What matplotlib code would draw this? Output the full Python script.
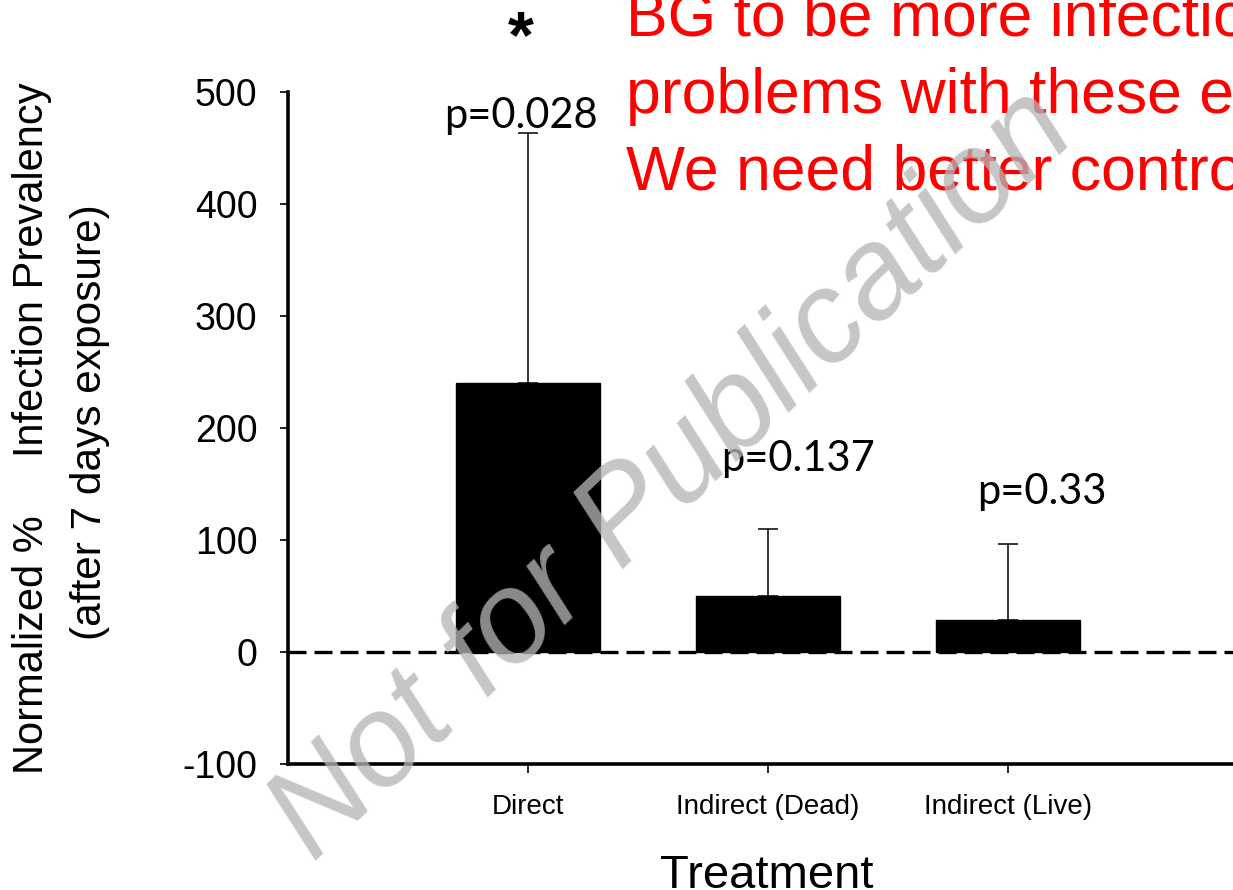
import matplotlib
matplotlib.use("Agg")
import matplotlib.pyplot as plt
import numpy as np

# ---- data ----
categories = ["Direct", "Indirect (Dead)", "Indirect (Live)"]
values = [240, 50, 29]
err_upper = [223, 60, 67]
p_labels = ["p=0.028", "p=0.137", "p=0.33"]
yticks = [-100, 0, 100, 200, 300, 400, 500]
note_lines = ["BG to be more infectious", "problems with these experiments.",
              "We need better controls"]

# ---- layout (positions of annotations, in data coords) ----
p_pos = [(0.97, 468), (2.125, 162), (3.14, 132)]

plt.rcParams['font.family'] = ['Liberation Sans', 'DejaVu Sans']
plt.rcParams['axes.unicode_minus'] = False

W, H = 1233, 890
fig = plt.figure(figsize=(W / 100, H / 100), dpi=100)
ax = fig.add_axes([288 / W, 126 / H, 960 / W, 672 / H])

x = np.arange(1, len(categories) + 1)
ax.bar(x, values, width=0.6, color='black', edgecolor='black', zorder=2)
ax.errorbar(x, values, yerr=[np.zeros(len(values)), err_upper], fmt='none',
            ecolor='black', elinewidth=1.1, capsize=7.5, capthick=1.1, zorder=3)
ax.axhline(0, color='black', lw=2.4, dashes=(5.4, 2.4), zorder=4)

ax.set_xlim(0, 4)
ax.set_ylim(-100, 500)
ax.set_yticks(yticks)
ax.set_xticks(x)
ax.set_xticklabels(categories, fontsize=20)
ax.tick_params(axis='y', labelsize=27, length=6, width=1.2, pad=16, direction='out')
ax.tick_params(axis='x', length=6.5, width=1.2, pad=15, direction='out')
for s in ['top', 'right']:
    ax.spines[s].set_visible(False)
for s in ['left', 'bottom']:
    ax.spines[s].set_linewidth(2.6)

# p-value labels
for (px, py), lab in zip(p_pos, p_labels):
    ax.text(px, py, lab, ha='center', va='baseline', fontsize=30,
            family=['Lato', 'DejaVu Sans'], zorder=5)

# asterisk
fig.text(521 / W, 1 - 40 / H, "*", ha='center', va='center', fontsize=48,
         fontweight='bold', color='black')

# x label
fig.text(767 / W, 1 - 888 / H, "Treatment", ha='center', va='baseline', fontsize=34)

# y label (two lines)
fig.text(32 / W, 1 - 428 / H, "Normalized %     Infection Prevalency", rotation=90,
         ha='center', va='center', fontsize=30)
fig.text(90 / W, 1 - 422 / H, "(after 7 days exposure)", rotation=90,
         ha='center', va='center', fontsize=30.5)

# red note text
for yb, line in zip([36, 113, 189], note_lines):
    fig.text(626 / W, 1 - yb / H, line, ha='left', va='baseline', fontsize=45,
             color='#ff0000')

# watermark
fig.text(696 / W, 1 - 500 / H, "Not for Publication", rotation=43.5,
         rotation_mode='anchor', ha='center', va='baseline', fontsize=93,
         style='italic', color=(0.71, 0.71, 0.71), alpha=0.77, zorder=10)

fig.savefig("out.png", dpi=100)
